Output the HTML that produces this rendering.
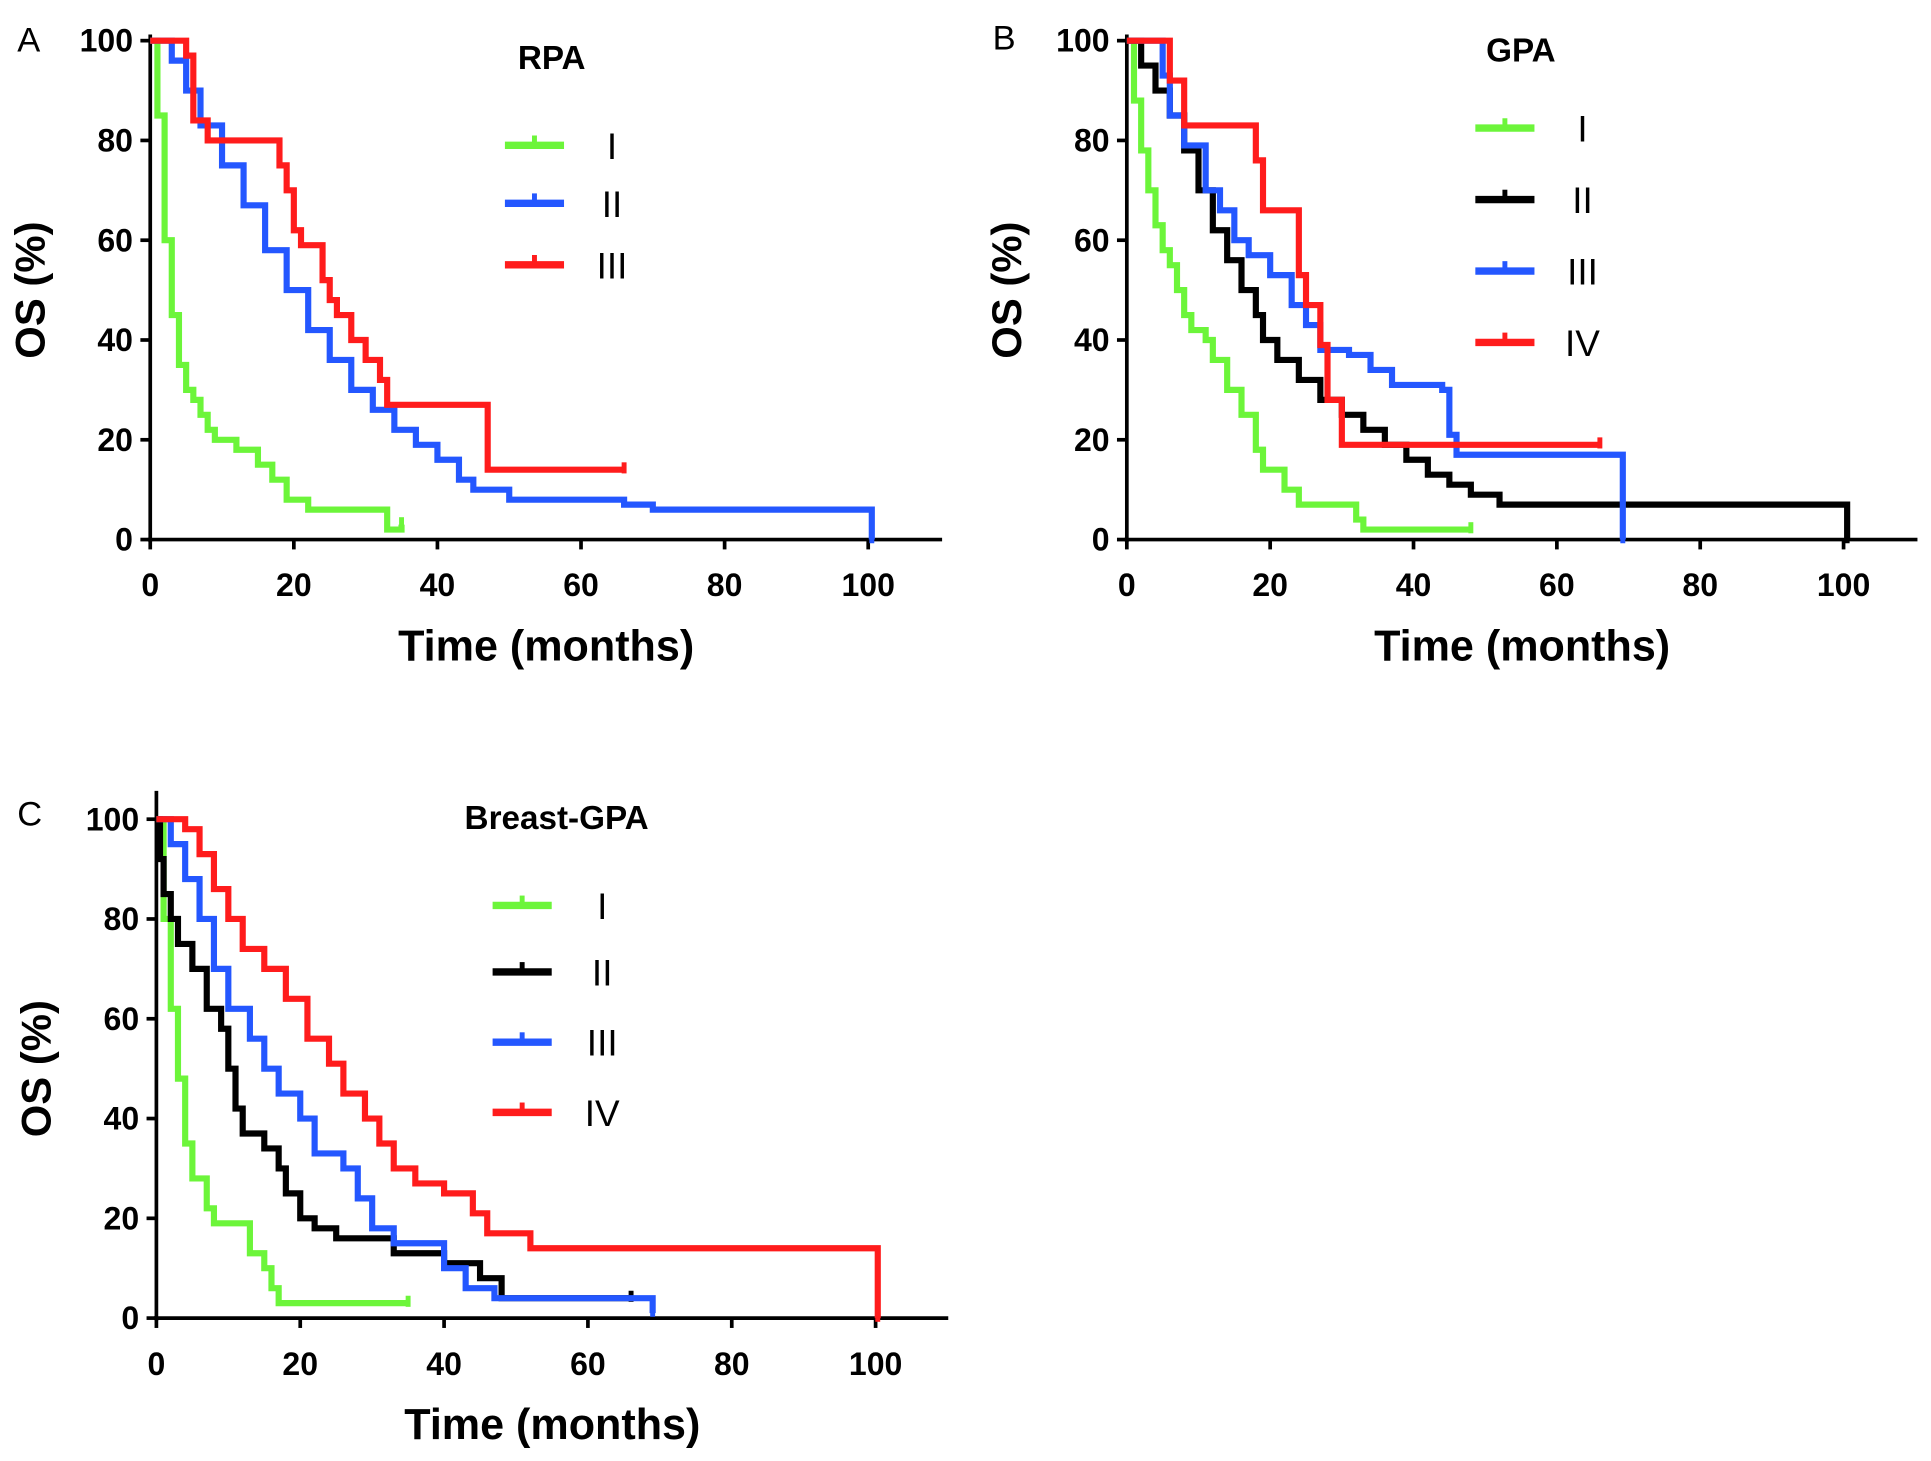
<!DOCTYPE html>
<html><head><meta charset="utf-8"><style>
html,body{margin:0;padding:0;background:#fff}
svg{display:block}
text{font-family:"Liberation Sans",sans-serif;font-weight:bold}
</style></head><body>
<svg id="chart" width="1931" height="1461" viewBox="0 0 1568 1186" preserveAspectRatio="none" xmlns="http://www.w3.org/2000/svg"></svg>
<script>
const xTicks=[0,20,40,60,80,100];
const yTicks=[0,20,40,60,80,100];
// Panel A (RPA)
const aI_t=[0,1,2,3,4,5,6,7,8,9,12,15,17,19,22,32,33,35];
const aI_v=[100,85,60,45,35,30,28,25,22,20,18,15,12,8,6,6,2,3];
const aII_t=[0,3,5,7,10,13,16,19,22,25,28,31,34,37,40,43,45,50,66,70,100,100.5];
const aII_v=[100,96,90,83,75,67,58,50,42,36,30,26,22,19,16,12,10,8,7,6,6,0];
const aIII_t=[0,5,6,8,17,18,19,20,21,24,25,26,28,30,32,33,46,47,66];
const aIII_v=[100,97,84,80,80,75,70,62,59,52,48,45,40,36,32,27,27,14,14];
// Panel B (GPA)
const bI_t=[0,1,2,3,4,5,6,7,8,9,11,12,14,16,18,19,22,24,30,32,33,48];
const bI_v=[100,88,78,70,63,58,55,50,45,42,40,36,30,25,18,14,10,7,7,4,2,2];
const bII_t=[0,2,4,6,8,10,12,14,16,18,19,21,24,27,30,33,36,39,42,45,48,52,100,100.5];
const bII_v=[100,95,90,85,78,70,62,56,50,45,40,36,32,28,25,22,19,16,13,11,9,7,7,0];
const bIII_t=[0,5,6,8,11,13,15,17,20,23,25,27,31,34,37,44,45,46,69,69.2];
const bIII_v=[100,93,85,79,70,66,60,57,53,47,43,38,37,34,31,30,21,17,17,0];
const bIV_t=[0,6,8,17,18,19,23,24,25,27,28,30,66];
const bIV_v=[100,92,83,83,76,66,66,53,47,39,28,19,19];
// Panel C (Breast-GPA)
const cI_t=[0,1,2,3,4,5,7,8,13,15,16,17,35];
const cI_v=[100,80,62,48,35,28,22,19,13,10,6,3,3];
const cII_t=[0,0.5,1,2,3,5,7,9,10,11,12,15,17,18,20,22,25,33,40,45,48,66];
const cII_v=[100,92,85,80,75,70,62,58,50,42,37,34,30,25,20,18,16,13,11,8,4,4];
const cIII_t=[0,2,4,6,8,10,13,15,17,20,22,26,28,30,33,40,43,47,68,69];
const cIII_v=[100,95,88,80,70,62,56,50,45,40,33,30,24,18,15,10,6,4,4,1];
const cIV_t=[0,4,6,8,10,12,15,18,21,24,26,29,31,33,36,40,44,46,52,100,100.3];
const cIV_v=[100,98,93,86,80,74,70,64,56,51,45,40,35,30,27,25,21,17,14,14,0];

const G="#6cf53a",K="#000",B="#2457ff",R="#ff1c1c";
const NS="http://www.w3.org/2000/svg";
const svg=document.getElementById('chart');
function el(tag,attrs,parent){const e=document.createElementNS(NS,tag);for(const k in attrs)e.setAttribute(k,attrs[k]);(parent||svg).appendChild(e);return e;}
function txt(s,attrs,parent){const e=el('text',attrs,parent);e.textContent=s;return e;}

const panels=[
 {id:'a',x0:122,x100:705,xEnd:765,y0:438,y100:33,yTop:28,letter:'A',lx:14,ly:42,title:'RPA',tx:448,ty:56,
  series:[['I',aI_t,aI_v,G],['II',aII_t,aII_v,B],['III',aIII_t,aIII_v,R]],legX:410,legY:[118,165,215],labX:497},
 {id:'b',x0:915,x100:1497,xEnd:1557,y0:438,y100:33,yTop:28,letter:'B',lx:806,ly:40,title:'GPA',tx:1235,ty:50,
  series:[['I',bI_t,bI_v,G],['II',bII_t,bII_v,K],['III',bIII_t,bIII_v,B],['IV',bIV_t,bIV_v,R]],legX:1198,legY:[104,162,220,278],labX:1285},
 {id:'c',x0:127,x100:711,xEnd:770,y0:1070,y100:665,yTop:642,letter:'C',lx:14,ly:670,title:'Breast-GPA',tx:452,ty:673,
  series:[['I',cI_t,cI_v,G],['II',cII_t,cII_v,K],['III',cIII_t,cIII_v,B],['IV',cIV_t,cIV_v,R]],legX:400,legY:[735,789,846,903],labX:489}
];

panels.forEach(p=>{
  const g=el('g',{});
  
  
  const X=t=>p.x0+(p.x100-p.x0)*t/100, Y=v=>p.y0+(p.y100-p.y0)*v/100;
  const yl=el('line',{x1:p.x0,y1:p.yTop,x2:p.x0,y2:p.y0+2,stroke:'#000','stroke-width':3},g);
  
  
  const xl=el('line',{x1:p.x0-2,y1:p.y0,x2:p.xEnd,y2:p.y0,stroke:'#000','stroke-width':3},g);
  
  
  xTicks.forEach(t=>{
    el('line',{x1:X(t),y1:p.y0,x2:X(t),y2:p.y0+8,stroke:'#000','stroke-width':3},g);
    const l=txt(String(t),{x:X(t),y:p.y0+46,'font-size':26,'text-anchor':'middle'},g);
    
    
  });
  yTicks.forEach(v=>{
    el('line',{x1:p.x0-8,y1:Y(v),x2:p.x0,y2:Y(v),stroke:'#000','stroke-width':3},g);
    const l=txt(String(v),{x:p.x0-14,y:Y(v)+9,'font-size':26,'text-anchor':'end'},g);
    
    
  });
  const xt=txt('Time (months)',{x:(p.x0+p.xEnd)/2,y:p.y0+98,'font-size':35,'text-anchor':'middle'},g);
  
  
  const cy=(p.y0+p.y100)/2;
  const yt=txt('OS (%)',{x:p.x0-86,y:cy,'font-size':34,'text-anchor':'middle',transform:`rotate(-90 ${p.x0-86} ${cy})`},g);
  
  
  const lt=txt(p.letter,{x:p.lx,y:p.ly,'font-size':28,style:'font-weight:normal'},g);
  
  
  const tt=txt(p.title,{x:p.tx,y:p.ty,'font-size':27,'text-anchor':'middle'},g);
  
  
  p.series.forEach((s,i)=>{
    const [name,ts,vs,col]=s;
    let d=`M${X(ts[0])},${Y(vs[0])}`;
    for(let k=1;k<ts.length;k++){d+=` H${X(ts[k])} V${Y(vs[k])}`;}
    const path=el('path',{d:d,fill:'none',stroke:col,'stroke-width':5},g);
    
    
    const last=ts.length-1;
    el('line',{x1:X(ts[last]),y1:Y(vs[last])-6,x2:X(ts[last]),y2:Y(vs[last])+3,stroke:col,'stroke-width':4},g);
    const ly=p.legY[i];
    const ll=el('line',{x1:p.legX,y1:ly,x2:p.legX+48,y2:ly,stroke:col,'stroke-width':6},g);
    
    
    el('line',{x1:p.legX+24,y1:ly-8,x2:p.legX+24,y2:ly,stroke:col,'stroke-width':4},g);
    const lb=txt(name,{x:p.labX,y:ly+11,'font-size':30,'text-anchor':'middle',style:'font-weight:normal'},g);
    
    
  });
});
</script>
</body></html>
